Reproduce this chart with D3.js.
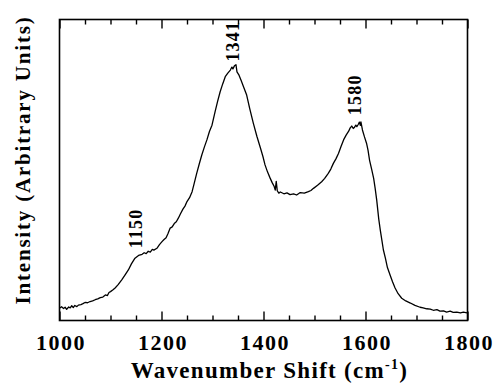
<!DOCTYPE html>
<html>
<head>
<meta charset="utf-8">
<script src="https://cdn.jsdelivr.net/npm/d3@7"></script>
<style>
  html, body { margin: 0; padding: 0; background: #fff; }
  svg { display: block; }
  text { font-family: "Liberation Serif", "Times New Roman", serif; font-weight: bold; fill: #000; }
</style>
</head>
<body>
<svg id="chart" width="494" height="384"></svg>
<script>
// ---- data ----
const wavenumbers = [1000,1004,1008,1011,1014,1018,1021,1024,1027,1030,1034,1037,1042,1046,1050,1055,1060,1065,1070,1075,1080,1085,1090,1094,1097,1100,1105,1109,1115,1122,1128,1135,1141,1148,1155,1162,1166,1170,1174,1178,1182,1185,1191,1196,1201,1205,1209,1213,1217,1221,1225,1229,1233,1237,1242,1246,1250,1255,1260,1264,1269,1274,1279,1284,1289,1294,1299,1305,1310,1315,1320,1325,1330,1335,1338,1340,1343,1346,1348,1352,1356,1361,1367,1373,1380,1387,1394,1399,1403,1408,1413,1417,1421,1423,1425,1427,1430,1433,1440,1446,1452,1459,1465,1472,1480,1488,1493,1498,1506,1514,1520,1527,1532,1537,1542,1547,1552,1557,1562,1567,1570,1573,1576,1578,1581,1583,1586,1588,1590,1591,1594,1598,1602,1605,1608,1612,1616,1619,1622,1626,1629,1632,1635,1639,1643,1648,1653,1658,1664,1671,1679,1688,1697,1707,1713,1720,1727,1733,1740,1746,1753,1759,1766,1772,1779,1786,1792,1799];
const intensities = [4.1,4.6,4.0,4.4,3.7,4.5,4.2,4.9,4.3,5.0,4.6,5.1,5.3,5.6,6.0,5.9,6.3,6.5,6.9,7.2,7.6,7.8,8.5,8.3,9.3,9.6,10.2,10.8,11.9,13.5,15.0,16.8,18.8,20.7,21.6,22.0,22.5,22.2,23.0,22.7,23.6,23.4,24.0,25.2,26.2,26.9,27.5,29.0,30.7,31.1,32.2,32.8,34.0,35.4,37.0,38.0,39.5,40.8,42.8,45.5,48.9,52.0,55.0,57.6,60.0,62.8,64.9,69.3,72.8,76.0,78.6,81.0,82.2,83.2,84.2,83.6,84.6,85.0,82.6,81.5,79.8,77.6,74.9,70.4,65.6,61.2,57.3,54.4,51.7,49.3,47.3,45.8,44.5,43.3,46.2,43.1,42.3,42.7,42.1,42.4,41.8,42.1,41.7,42.5,42.3,42.8,43.2,43.9,44.9,46.1,47.2,48.9,50.3,52.2,53.7,55.5,57.8,60.0,61.6,62.9,64.0,64.6,63.8,64.1,64.9,64.4,65.2,65.9,64.8,66.0,63.3,61.0,58.9,56.5,53.2,50.3,47.2,43.8,40.0,33.7,30.0,26.8,23.5,20.7,17.6,15.2,12.9,10.8,8.9,7.4,6.5,5.8,5.0,4.4,4.2,3.9,3.8,3.4,3.6,3.1,3.2,2.8,3.1,2.7,2.8,2.5,2.8,2.5];
const xDomain = [1000, 1800];
const yDomain = [0, 100];
const majorTicks = [1000, 1200, 1400, 1600, 1800];
const minorTicks = [1050,1100,1150,1250,1300,1350,1450,1500,1550,1650,1700,1750];
const peakLabels = ["1150", "1341", "1580"];
const peakPositions = [1150, 1341, 1580];
const peakHeights = [30.6, 92.8, 75.0];
const xTitle = "Wavenumber Shift (cm";
const xTitleSup = "-1";
const yTitle = "Intensity (Arbitrary Units)";

// ---- layout ----
const svg = d3.select("#chart");
const m = { left: 59.5, top: 19.5, right: 467.5, bottom: 320.5 };
const x = d3.scaleLinear().domain(xDomain).range([m.left, m.right]);
const y = d3.scaleLinear().domain(yDomain).range([m.bottom, m.top]);

// frame
svg.append("rect")
  .attr("x", m.left).attr("y", m.top)
  .attr("width", m.right - m.left).attr("height", m.bottom - m.top)
  .attr("fill", "none").attr("stroke", "#000").attr("stroke-width", 1.6);

function addAxis(gen, ty, values, size, labels) {
  const g = svg.append("g").attr("transform", `translate(0,${ty})`)
    .call(gen(x).tickValues(values).tickSizeInner(size).tickSizeOuter(0)
      .tickFormat(labels ? d3.format("d") : () => "").tickPadding(labels ? 0 : 3));
  g.select(".domain").remove();
  g.selectAll(".tick line").attr("stroke", "#000").attr("stroke-width", 1.4);
  return g;
}
// bottom axis ticks pointing inward (up)
const bMajor = addAxis(d3.axisBottom, m.bottom, majorTicks, -9, true);
addAxis(d3.axisBottom, m.bottom, minorTicks, -5, false);
// top axis ticks pointing inward (down)
addAxis(d3.axisTop, m.top, majorTicks, -9, false);
addAxis(d3.axisTop, m.top, minorTicks, -5, false);

bMajor.selectAll(".tick text")
  .attr("y", 29).attr("dy", null)
  .attr("dx", 1)
  .style("font-family", '"Liberation Serif", serif')
  .style("font-weight", "bold")
  .style("font-size", "22px")
  .style("letter-spacing", "1.5px")
  .attr("fill", "#000");

// curve
const pts = wavenumbers.map((w, i) => [w, intensities[i]]);
const line = d3.line().x(d => x(d[0])).y(d => y(d[1]));
svg.append("path").datum(pts)
  .attr("d", line)
  .attr("fill", "none").attr("stroke", "#000").attr("stroke-width", 1.3)
  .attr("stroke-linejoin", "round");

// peak labels (rotated)
peakLabels.forEach((lab, i) => {
  svg.append("text")
    .attr("transform", `translate(${x(peakPositions[i]) + 6},${y(peakHeights[i])}) rotate(-90)`)
    .attr("text-anchor", "middle")
    .style("font-size", "18px")
    .style("letter-spacing", "1.2px")
    .text(lab);
});

// x title
const xt = svg.append("text")
  .attr("x", (m.left + m.right) / 2 + 6).attr("y", 378)
  .attr("text-anchor", "middle")
  .style("font-size", "23px")
  .style("letter-spacing", "1.3px");
xt.append("tspan").text(xTitle);
xt.append("tspan").attr("dy", -9).style("font-size", "14px").text(xTitleSup);
xt.append("tspan").attr("dy", 9).text(")");

// y title
svg.append("text")
  .attr("transform", `translate(30,${(m.top + m.bottom) / 2 - 10}) rotate(-90)`)
  .attr("text-anchor", "middle")
  .style("font-size", "21px")
  .style("letter-spacing", "1.8px")
  .text(yTitle);
</script>
</body>
</html>
